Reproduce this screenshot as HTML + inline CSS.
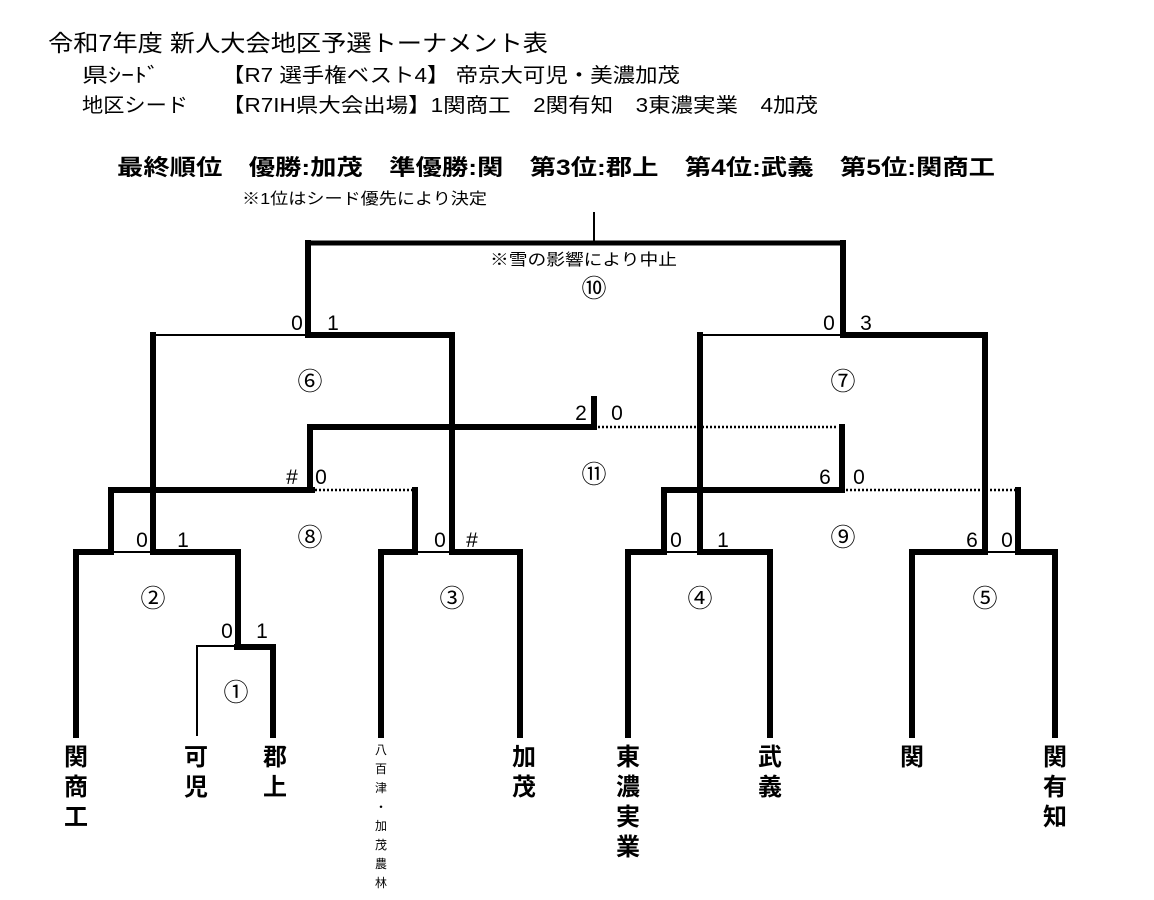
<!DOCTYPE html>
<html><head><meta charset="utf-8"><style>
html,body{margin:0;padding:0;background:#fff;}
svg{display:block;}
text{font-family:"Liberation Sans","Noto Sans CJK JP",sans-serif;fill:#000;}
</style></head><body>
<svg width="1154" height="900" viewBox="0 0 1154 900" xmlns="http://www.w3.org/2000/svg">
<text x="48" y="51" font-size="23" textLength="500" lengthAdjust="spacingAndGlyphs">令和7年度 新人大会地区予選トーナメント表</text>
<text x="82" y="82" font-size="20" textLength="78" lengthAdjust="spacingAndGlyphs">県ｼｰﾄﾞ</text>
<text x="222" y="82" font-size="20" textLength="458" lengthAdjust="spacingAndGlyphs">【R7 選手権ベスト4】 帝京大可児・美濃加茂</text>
<text x="82" y="112" font-size="20" textLength="106" lengthAdjust="spacingAndGlyphs">地区シード</text>
<text x="222" y="112" font-size="20" textLength="596" lengthAdjust="spacingAndGlyphs">【R7IH県大会出場】1関商工　2関有知　3東濃実業　4加茂</text>
<text x="117" y="175" font-size="22" font-weight="bold" textLength="878" lengthAdjust="spacingAndGlyphs">最終順位　優勝:加茂　準優勝:関　第3位:郡上　第4位:武義　第5位:関商工</text>
<text x="242" y="204" font-size="16" textLength="245" lengthAdjust="spacingAndGlyphs">※1位はシード優先により決定</text>
<text x="490" y="265" font-size="16" textLength="187" lengthAdjust="spacingAndGlyphs">※雪の影響により中止</text>

<g stroke="#000" fill="none" stroke-linecap="square">
<line x1="594" y1="213" x2="594" y2="243" stroke-width="2"/>
<line x1="308" y1="243" x2="843" y2="243" stroke-width="5"/>
<line x1="308" y1="243" x2="308" y2="335" stroke-width="6"/>
<line x1="843" y1="243" x2="843" y2="335" stroke-width="6"/>
<line x1="153" y1="335" x2="308" y2="335" stroke-width="2"/>
<line x1="308" y1="335" x2="452" y2="335" stroke-width="6"/>
<line x1="153" y1="335" x2="153" y2="552" stroke-width="6"/>
<line x1="452" y1="335" x2="452" y2="552" stroke-width="6"/>
<line x1="700" y1="335" x2="843" y2="335" stroke-width="2"/>
<line x1="843" y1="335" x2="985" y2="335" stroke-width="6"/>
<line x1="700" y1="335" x2="700" y2="552" stroke-width="6"/>
<line x1="985" y1="335" x2="985" y2="552" stroke-width="6"/>
<line x1="594" y1="399" x2="594" y2="427" stroke-width="6"/>
<line x1="310" y1="427" x2="594" y2="427" stroke-width="6"/>
<line x1="310" y1="427" x2="310" y2="490" stroke-width="6"/>
<line x1="842" y1="427" x2="842" y2="490" stroke-width="6"/>
<line x1="111" y1="490" x2="312" y2="490" stroke-width="6"/>
<line x1="111" y1="490" x2="111" y2="552" stroke-width="6"/>
<line x1="415" y1="490" x2="415" y2="552" stroke-width="6"/>
<line x1="664" y1="490" x2="842" y2="490" stroke-width="6"/>
<line x1="664" y1="490" x2="664" y2="552" stroke-width="6"/>
<line x1="1018" y1="490" x2="1018" y2="552" stroke-width="6"/>
<line x1="76" y1="552" x2="111" y2="552" stroke-width="6"/>
<line x1="111" y1="552" x2="153" y2="552" stroke-width="2"/>
<line x1="153" y1="552" x2="238" y2="552" stroke-width="6"/>
<line x1="76" y1="552" x2="76" y2="735" stroke-width="6"/>
<line x1="238" y1="552" x2="238" y2="647" stroke-width="6"/>
<line x1="197" y1="646" x2="237" y2="646" stroke-width="2"/>
<line x1="237" y1="647" x2="273" y2="647" stroke-width="6"/>
<line x1="197" y1="646" x2="197" y2="735" stroke-width="2"/>
<line x1="273" y1="647" x2="273" y2="735" stroke-width="6"/>
<line x1="381" y1="552" x2="415" y2="552" stroke-width="6"/>
<line x1="415" y1="552" x2="452" y2="552" stroke-width="2"/>
<line x1="452" y1="552" x2="520" y2="552" stroke-width="6"/>
<line x1="381" y1="552" x2="381" y2="735" stroke-width="6"/>
<line x1="520" y1="552" x2="520" y2="735" stroke-width="6"/>
<line x1="628" y1="552" x2="664" y2="552" stroke-width="6"/>
<line x1="664" y1="552" x2="700" y2="552" stroke-width="2"/>
<line x1="700" y1="552" x2="770" y2="552" stroke-width="6"/>
<line x1="628" y1="552" x2="628" y2="735" stroke-width="6"/>
<line x1="770" y1="552" x2="770" y2="735" stroke-width="6"/>
<line x1="912" y1="552" x2="985" y2="552" stroke-width="6"/>
<line x1="985" y1="552" x2="1018" y2="552" stroke-width="2"/>
<line x1="1018" y1="552" x2="1055" y2="552" stroke-width="6"/>
<line x1="912" y1="552" x2="912" y2="735" stroke-width="6"/>
<line x1="1055" y1="552" x2="1055" y2="735" stroke-width="6"/>
</g>
<g stroke="#000" fill="none" stroke-linecap="butt" stroke-width="2.5" stroke-dasharray="2,2">
<line x1="598" y1="427" x2="838" y2="427"/>
<line x1="315" y1="490" x2="412" y2="490"/>
<line x1="846" y1="490" x2="1015" y2="490"/>
</g>

<g font-size="25" text-anchor="middle">
<text x="594" y="297">⑩</text>
<text x="310" y="390">⑥</text>
<text x="843" y="390">⑦</text>
<text x="594" y="483">⑪</text>
<text x="310" y="546">⑧</text>
<text x="843" y="546">⑨</text>
<text x="153" y="607">②</text>
<text x="452" y="607">③</text>
<text x="700" y="607">④</text>
<text x="985" y="607">⑤</text>
<text x="236" y="701">①</text>
</g>

<g font-size="21" text-anchor="middle">
<text x="297" y="330">0</text><text x="333" y="330">1</text>
<text x="829" y="330">0</text><text x="866" y="330">3</text>
<text x="581" y="420">2</text><text x="617" y="420">0</text>
<text x="292" y="484">#</text><text x="321" y="484">0</text>
<text x="825" y="484">6</text><text x="859" y="484">0</text>
<text x="142" y="547">0</text><text x="183" y="547">1</text>
<text x="440" y="547">0</text><text x="472" y="547">#</text>
<text x="676" y="547">0</text><text x="723" y="547">1</text>
<text x="972" y="547">6</text><text x="1007" y="547">0</text>
<text x="227" y="638">0</text><text x="262" y="638">1</text>
</g>

<g font-size="24" text-anchor="middle" font-weight="bold">
<text x="76" y="765">関</text><text x="76" y="795">商</text><text x="76" y="825">工</text>
<text x="196" y="765">可</text><text x="196" y="795">児</text>
<text x="275" y="765">郡</text><text x="275" y="795">上</text>
<text x="524" y="765">加</text><text x="524" y="795">茂</text>
<text x="628" y="765">東</text><text x="628" y="795">濃</text><text x="628" y="825">実</text><text x="628" y="855">業</text>
<text x="770" y="765">武</text><text x="770" y="795">義</text>
<text x="912" y="765">関</text>
<text x="1055" y="765">関</text><text x="1055" y="795">有</text><text x="1055" y="825">知</text>
</g>
<g font-size="12" text-anchor="middle">
<text x="381" y="754">八</text><text x="381" y="773">百</text><text x="381" y="792">津</text>
<text x="381" y="811">・</text><text x="381" y="830">加</text><text x="381" y="849">茂</text>
<text x="381" y="868">農</text><text x="381" y="887">林</text>
</g>
</svg>
</body></html>
